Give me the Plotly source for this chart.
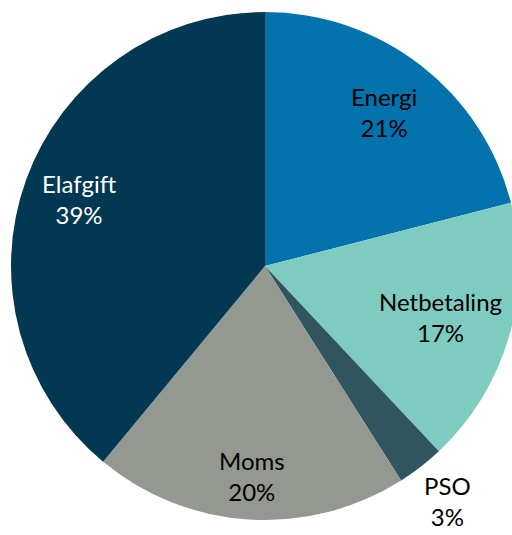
import math
import plotly.graph_objects as go

labels = ["Energi", "Netbetaling", "PSO", "Moms", "Elafgift"]
values = [21, 17, 3, 20, 39]
colors = ["#0472AD", "#7ECCBF", "#30555F", "#939890", "#033853"]
text_colors = ["#000000", "#000000", "#000000", "#000000", "#FFFFFF"]
# radial position of each label as a fraction of the radius (style)
label_radius = [0.765, 0.72, 1.17, 0.83, 0.775]

W, H = 530, 535
top_px, bot_px = 12, 520
cx, cy = W / 2, (top_px + bot_px) / 2
R = (bot_px - top_px) / 2

fig = go.Figure(go.Pie(
    labels=labels,
    values=values,
    sort=False,
    direction="clockwise",
    rotation=0,
    marker=dict(colors=colors, line=dict(width=0)),
    textinfo="none",
    domain=dict(x=[0, 1], y=[1 - bot_px / H, 1 - top_px / H]),
    hoverinfo="none",
    showlegend=False,
))

total = sum(values)
cum = 0
annotations = []
for lab, v, tc, rf in zip(labels, values, text_colors, label_radius):
    mid = (cum + v / 2) / total * 2 * math.pi
    cum += v
    px = cx + rf * R * math.sin(mid)
    py = cy - rf * R * math.cos(mid)
    pct = round(v / total * 100)
    annotations.append(dict(
        x=px / W, y=1 - py / H, xref="paper", yref="paper",
        text=f"{lab}<br>{pct}%", showarrow=False,
        xanchor="center", yanchor="middle",
        font=dict(family="Lato", size=24, color=tc),
    ))

fig.update_layout(
    width=W, height=H,
    margin=dict(l=0, r=0, t=0, b=0),
    paper_bgcolor="white",
    plot_bgcolor="white",
    annotations=annotations,
)
fig.write_html(
    "out.html",
    config={"displayModeBar": False},
    post_script="document.body.style.margin='0';document.body.style.overflow='hidden';document.documentElement.style.overflow='hidden';",
)
